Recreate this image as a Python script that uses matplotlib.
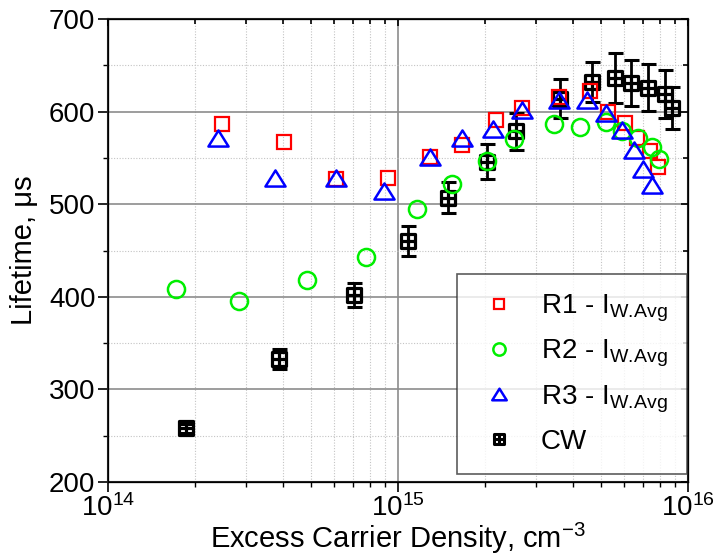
import matplotlib
matplotlib.use("Agg")
import matplotlib.pyplot as plt
import numpy as np
from matplotlib.path import Path
from matplotlib.ticker import LogLocator, MultipleLocator, NullFormatter
from matplotlib.lines import Line2D

plt.rcParams['font.family'] = ['Liberation Sans', 'DejaVu Sans']
plt.rcParams['mathtext.default'] = 'regular'

# Excess carrier density (cm^-3) and lifetime (us) for each measurement set
r1_density = [2.47e14, 4.05e14, 6.1e14, 9.26e14, 1.29e15, 1.66e15, 2.17e15, 2.67e15,
              3.6e15, 4.59e15, 5.3e15, 6.07e15, 6.65e15, 7.4e15, 7.88e15]
r1_lifetime = [587, 567, 527, 528, 551, 564, 591, 604, 616, 622, 600, 588, 571, 557, 540]

r2_density = [1.72e14, 2.82e14, 4.84e14, 7.73e14, 1.16e15, 1.53e15, 2.02e15, 2.52e15,
              3.45e15, 4.25e15, 5.2e15, 5.94e15, 6.74e15, 7.5e15, 7.95e15]
r2_lifetime = [408, 396, 418, 443, 495, 522, 547, 570, 587, 583, 589, 579, 571, 562, 549]

r3_density = [2.39e14, 3.77e14, 6.1e14, 8.95e14, 1.29e15, 1.66e15, 2.12e15, 2.67e15,
              3.6e15, 4.47e15, 5.2e15, 5.94e15, 6.5e15, 7.02e15, 7.5e15]
r3_lifetime = [571, 528, 528, 514, 551, 571, 581, 602, 612, 612, 598, 580, 558, 538, 521]

cw_density = [1.86e14, 3.89e14, 7.05e14, 1.08e15, 1.49e15, 2.02e15, 2.55e15, 3.62e15,
              4.65e15, 5.62e15, 6.38e15, 7.3e15, 8.3e15, 8.8e15]
cw_lifetime = [258, 333, 402, 460, 507, 546, 579, 614, 632, 636, 631, 626, 619, 604]
cw_error = [5, 11, 13, 16, 17, 19, 20, 21, 22, 27, 25, 25, 26, 23]

fig = plt.figure(figsize=(7.15, 5.56), dpi=100)
ax = fig.add_axes([108 / 715, 1 - 482 / 556, (688 - 108) / 715, (482 - 19) / 556])

# square-with-cross marker for the CW data
box_plus = Path(
    [(-1, -1), (1, -1), (1, 1), (-1, 1), (-1, -1), (0, -1), (0, 1), (-1, 0), (1, 0)],
    [Path.MOVETO, Path.LINETO, Path.LINETO, Path.LINETO, Path.CLOSEPOLY,
     Path.MOVETO, Path.LINETO, Path.MOVETO, Path.LINETO])
# slightly flattened triangle
tri = Path([(-1, -0.8), (1, -0.8), (0, 0.8), (-1, -0.8)],
           [Path.MOVETO, Path.LINETO, Path.LINETO, Path.CLOSEPOLY])

sq_ms, ci_ms, tr_ms, cw_ms = 10, 12.3, 14.5, 10.3

ax.errorbar(cw_density, cw_lifetime, yerr=cw_error, fmt='none', ecolor='black',
            elinewidth=2.0, capsize=5.4, capthick=2.2, zorder=3)
ax.plot(cw_density, cw_lifetime, linestyle='none', marker=box_plus, ms=cw_ms,
        mfc='none', mec='black', mew=2.3, zorder=4)
ax.plot(r1_density, r1_lifetime, linestyle='none', marker='s', ms=sq_ms,
        mfc='none', mec='#ff0000', mew=1.6, zorder=5)
ax.plot(r2_density, r2_lifetime, linestyle='none', marker='o', ms=ci_ms,
        mfc='none', mec='#00ee00', mew=1.8, zorder=5)
ax.plot(r3_density, r3_lifetime, linestyle='none', marker=tri, ms=tr_ms,
        mfc='none', mec='#0000ff', mew=1.8, zorder=6)

ax.set_xscale('log')
ax.set_xlim(1e14, 1e16)
ax.set_ylim(200, 700)
ax.yaxis.set_major_locator(MultipleLocator(100))
ax.yaxis.set_minor_locator(MultipleLocator(50))
ax.xaxis.set_major_locator(LogLocator(base=10, numticks=10))
ax.xaxis.set_minor_locator(LogLocator(base=10, subs=np.arange(2, 10), numticks=20))
ax.xaxis.set_minor_formatter(NullFormatter())

ax.grid(True, which='major', color='#8c8c8c', linewidth=1.2, linestyle='-', zorder=0)
ax.grid(True, which='minor', color='#c4c4c4', linewidth=0.8, linestyle=(0, (1, 1.5)), zorder=0)
ax.set_axisbelow(True)

ax.tick_params(which='major', direction='out', length=7, width=1.2, labelsize=20,
               colors='black', pad=2)
ax.tick_params(which='minor', direction='out', length=3.5, width=1.0)
ax.tick_params(axis='x', which='major', pad=2)
for s in ax.spines.values():
    s.set_linewidth(1.5)
    s.set_color('#222222')

# mirrored ticks on top and right, pointing inward
axt = ax.twiny()
axt.set_xscale('log')
axt.set_xlim(ax.get_xlim())
axt.xaxis.set_major_locator(LogLocator(base=10, numticks=10))
axt.xaxis.set_minor_locator(LogLocator(base=10, subs=np.arange(2, 10), numticks=20))
axt.tick_params(which='both', direction='in', labeltop=False, width=1.2)
axt.tick_params(which='major', length=5)
axt.tick_params(which='minor', length=3.5)
axr = ax.twinx()
axr.set_ylim(ax.get_ylim())
axr.yaxis.set_major_locator(MultipleLocator(100))
axr.yaxis.set_minor_locator(MultipleLocator(50))
axr.tick_params(which='both', direction='in', labelright=False, width=1.2)
axr.tick_params(which='major', length=5)
axr.tick_params(which='minor', length=3.5)

ax.set_xlabel('Excess Carrier Density, cm$^{-3}$', fontsize=21, labelpad=-1)
ax.set_ylabel('Lifetime, μs', fontsize=21, labelpad=8)

handles = [
    Line2D([], [], linestyle='none', marker='s', ms=sq_ms, mfc='none', mec='#ff0000', mew=1.6),
    Line2D([], [], linestyle='none', marker='o', ms=ci_ms, mfc='none', mec='#00ee00', mew=1.8),
    Line2D([], [], linestyle='none', marker=tri, ms=tr_ms, mfc='none', mec='#0000ff', mew=1.8),
    Line2D([], [], linestyle='none', marker=box_plus, ms=cw_ms, mfc='none', mec='black', mew=2.2),
]
labels = [r'R1 - I$_{W.\!Avg}$', r'R2 - I$_{W.\!Avg}$', r'R3 - I$_{W.\!Avg}$', 'CW']
leg = axr.legend(handles, labels, loc='lower left', bbox_to_anchor=(457 / 715, 1 - 474 / 556),
                 bbox_transform=fig.transFigure, fontsize=20, markerscale=0.72,
                 frameon=True, fancybox=False, borderpad=0.7, handlelength=1.6,
                 handletextpad=0.72, labelspacing=0.5, borderaxespad=0)
leg.get_frame().set_edgecolor('#333333')
leg.get_frame().set_linewidth(1.2)

fig.savefig('out.png', dpi=100)
